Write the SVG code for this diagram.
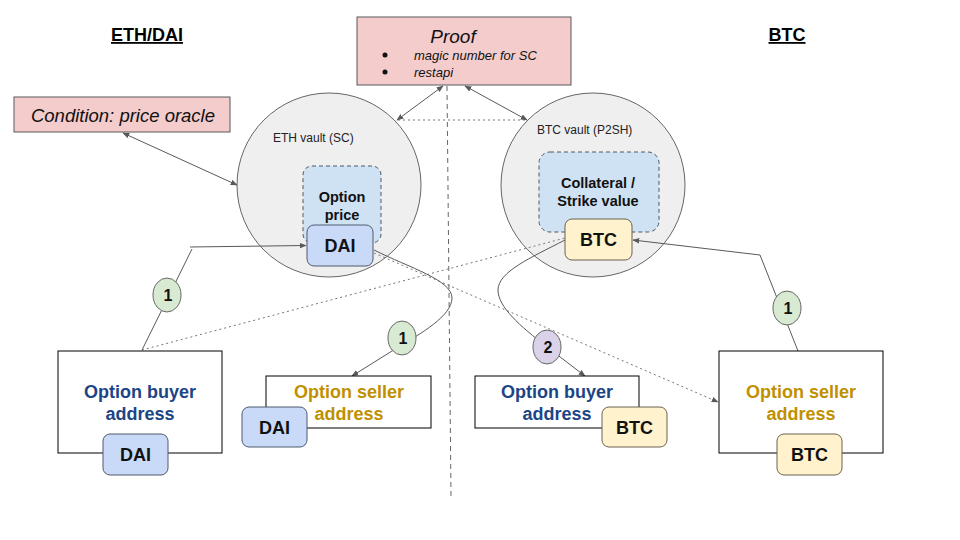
<svg xmlns="http://www.w3.org/2000/svg" width="960" height="540" viewBox="0 0 960 540">
<style>
text{font-family:"Liberation Sans",Arial,sans-serif;}
.h{font-size:18px;font-weight:bold;text-decoration:underline;text-anchor:middle;fill:#000;}
.pink{fill:#f4cccc;stroke:#595959;stroke-width:1;}
.vault{fill:#efefef;stroke:#666;stroke-width:1;}
.vlabel{font-size:12px;fill:#222;}
.inner{fill:#cfe2f3;stroke:#4d5866;stroke-width:1;stroke-dasharray:4,3;}
.in{font-size:14.5px;font-weight:bold;text-anchor:middle;fill:#111;}
.dai{fill:#c9daf8;stroke:#4f5a6e;stroke-width:1;}
.btc{fill:#fff2cc;stroke:#6b6350;stroke-width:1;}
.tok{font-size:18px;font-weight:bold;text-anchor:middle;fill:#111;}
.addr{fill:#fff;stroke:#000;stroke-width:1;}
.buy{font-size:18px;font-weight:bold;text-anchor:middle;fill:#1c4587;}
.sell{font-size:18px;font-weight:bold;text-anchor:middle;fill:#bf9000;}
.c{fill:none;stroke:#595959;stroke-width:1;}
.dot{fill:none;stroke:#777;stroke-width:1;stroke-dasharray:2,3;}
.dash{fill:none;stroke:#666;stroke-width:1;stroke-dasharray:5,4;}
.g1{fill:#d9ead3;stroke:#666;stroke-width:1;}
.g2{fill:#d9d2e9;stroke:#666;stroke-width:1;}
.num{font-size:16px;font-weight:bold;text-anchor:middle;fill:#111;}
</style>
<defs>
<marker id="ah" viewBox="0 0 10 10" refX="9" refY="5" markerWidth="7" markerHeight="7" orient="auto-start-reverse" markerUnits="userSpaceOnUse">
<path d="M0,1 L10,5 L0,9 z" fill="#595959"/>
</marker>
</defs>

<g id="title-eth"><text class="h" x="147" y="41">ETH/DAI</text></g>
<g id="title-btc"><text class="h" x="787" y="41">BTC</text></g>

<g id="proof">
<rect class="pink" x="357" y="17" width="214" height="68"/>
<text x="453" y="43" font-size="19" font-style="italic" text-anchor="middle" fill="#111">Proof</text>
<circle cx="385" cy="55" r="2.5" fill="#111"/>
<circle cx="385" cy="72" r="2.5" fill="#111"/>
<text x="414" y="60" font-size="13" font-style="italic" fill="#111">magic number for SC</text>
<text x="414" y="76.5" font-size="13" font-style="italic" fill="#111">restapi</text>
</g>

<g id="condition">
<rect class="pink" x="14" y="97" width="216" height="35"/>
<text x="123" y="122" font-size="18.5" font-style="italic" text-anchor="middle" fill="#111">Condition: price oracle</text>
</g>

<g id="eth-vault">
<circle class="vault" cx="329" cy="185" r="92"/>
<text class="vlabel" x="273" y="142">ETH vault (SC)</text>
<rect class="inner" x="303" y="166" width="78" height="77" rx="9"/>
<text class="in" x="342" y="202">Option</text>
<text class="in" x="342" y="220">price</text>
<rect class="dai" x="307" y="225" width="66" height="41" rx="7"/>
<text class="tok" x="340" y="252">DAI</text>
</g>

<g id="btc-vault">
<circle class="vault" cx="593" cy="185" r="92"/>
<text class="vlabel" x="537" y="134">BTC vault (P2SH)</text>
<rect class="inner" x="539" y="152" width="120" height="80" rx="11"/>
<text class="in" x="598" y="188">Collateral /</text>
<text class="in" x="598" y="206">Strike value</text>
<rect class="btc" x="565" y="219" width="67" height="41" rx="7"/>
<text class="tok" x="598.5" y="246">BTC</text>
</g>

<g id="connectors">
<line class="dash" x1="447" y1="86" x2="451" y2="496"/>
<line class="dot" x1="398" y1="120" x2="526" y2="120"/>
<line class="c" x1="443" y1="86" x2="397" y2="120" marker-start="url(#ah)" marker-end="url(#ah)"/>
<line class="c" x1="465" y1="86" x2="527" y2="120" marker-start="url(#ah)" marker-end="url(#ah)"/>
<line class="c" x1="123" y1="133" x2="237" y2="185" marker-start="url(#ah)" marker-end="url(#ah)"/>
<path class="c" d="M142,350 L192,249"/>
<path class="c" d="M190,247 L306,245.5" marker-end="url(#ah)"/>
<line class="dot" x1="142" y1="350" x2="565" y2="238"/>
<line class="dot" x1="374" y1="253" x2="718" y2="402" marker-end="url(#ah)"/>
<path class="c" d="M374,250 C410,268 452,280 452,298 C452,316 420,334 400,346 L352,376" marker-end="url(#ah)"/>
<path class="c" d="M798,351 L760,255 L633,240" marker-end="url(#ah)"/>
<path class="c" d="M565,240 C530,258 498,272 498,290 C498,307 520,326 547,347 L585,376" marker-end="url(#ah)"/>
</g>

<g id="badge-buyer-eth"><ellipse class="g1" cx="167" cy="295" rx="14" ry="17"/><text class="num" x="168" y="301">1</text></g>
<g id="badge-seller-eth"><ellipse class="g1" cx="402" cy="338" rx="14" ry="17"/><text class="num" x="403" y="344">1</text></g>
<g id="badge-seller-btc"><ellipse class="g1" cx="787" cy="308" rx="14" ry="17"/><text class="num" x="788" y="314">1</text></g>
<g id="badge-buyer-btc"><ellipse class="g2" cx="547" cy="347" rx="14" ry="17"/><text class="num" x="548" y="353">2</text></g>

<g id="buyer-eth">
<rect class="addr" x="58" y="351" width="164" height="102"/>
<text class="buy" x="140" y="398">Option buyer</text>
<text class="buy" x="140" y="420">address</text>
<rect class="dai" x="103" y="434" width="65" height="41" rx="7"/>
<text class="tok" x="135.5" y="461">DAI</text>
</g>

<g id="seller-eth">
<rect class="addr" x="266" y="376" width="165" height="52"/>
<text class="sell" x="349" y="398">Option seller</text>
<text class="sell" x="349" y="420">address</text>
<rect class="dai" x="242" y="407" width="65" height="40" rx="7"/>
<text class="tok" x="274.5" y="434">DAI</text>
</g>

<g id="buyer-btc">
<rect class="addr" x="475" y="376" width="164" height="52"/>
<text class="buy" x="557" y="398">Option buyer</text>
<text class="buy" x="557" y="420">address</text>
<rect class="btc" x="602" y="407" width="65" height="40" rx="7"/>
<text class="tok" x="634.5" y="434">BTC</text>
</g>

<g id="seller-btc">
<rect class="addr" x="719" y="351" width="164" height="102"/>
<text class="sell" x="801" y="398">Option seller</text>
<text class="sell" x="801" y="420">address</text>
<rect class="btc" x="777" y="434" width="65" height="41" rx="7"/>
<text class="tok" x="809.5" y="461">BTC</text>
</g>
</svg>
